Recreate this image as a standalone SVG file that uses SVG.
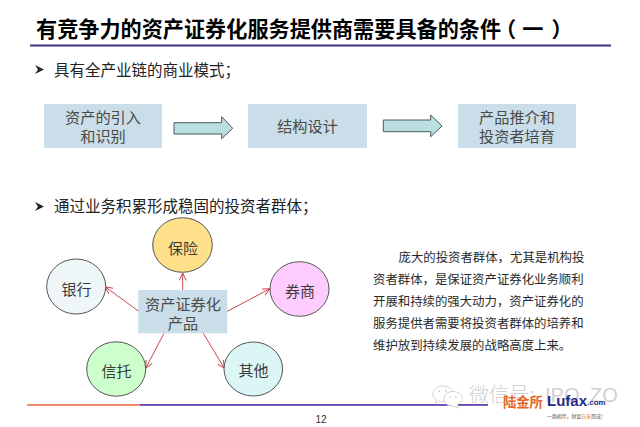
<svg xmlns="http://www.w3.org/2000/svg" width="640" height="427" viewBox="0 0 640 427">
<style>
text{font-family:"Liberation Sans","Noto Sans CJK SC",sans-serif}
.title{font-size:21.150px;font-weight:bold;fill:#000}
.bul{font-size:15.500px;fill:#222}
.box{fill:#c9dee8}
.bt{font-size:15.200px;fill:#4a4a4a;text-anchor:middle}
.c{stroke:#555;stroke-width:1}
.ct{font-size:15px;fill:#3a3a3a;text-anchor:middle}
.arr{fill:#b9dfe0;stroke:#4a5a5a;stroke-width:1}
.para{font-size:12.400px;fill:#2a2a2a}
.l{stroke:#c8474c;stroke-width:1;fill:none;marker-end:url(#ah)}
.wm{fill:#fff;stroke:#d4d4d4;stroke-width:1}
</style>
<defs>
<marker id="ah" viewBox="0 0 8 8" refX="7.500" refY="4" markerWidth="8" markerHeight="8" orient="auto" markerUnits="userSpaceOnUse"><path d="M0,0.500 L7.500,4 L0,7.500" fill="none" stroke="#c8474c" stroke-width="1"/></marker>
</defs>
<rect width="640" height="427" fill="#fff"/>
<text class="title" x="36" y="37">有竞争力的资产证券化服务提供商需要具备的条件<tspan dx="-6">（</tspan><tspan dx="6">一</tspan><tspan dx="8">）</tspan></text>
<rect x="30" y="44.500" width="581" height="2" fill="#47307f"/>
<path d="M35,65 L44,69.500 L35,74 L38,69.500Z" fill="#222"/>
<text class="bul" x="54" y="76">具有全产业链的商业模式；</text>
<g id="n1"><rect class="box" x="44" y="104" width="118" height="44"/><text class="bt" x="103" y="123">资产的引入</text><text class="bt" x="103" y="142">和识别</text></g>
<g id="n2"><rect class="box" x="248" y="104" width="119" height="44"/><text class="bt" x="307.500" y="132">结构设计</text></g>
<g id="n3"><rect class="box" x="458" y="104" width="118" height="44"/><text class="bt" x="517" y="123">产品推介和</text><text class="bt" x="517" y="142">投资者培育</text></g>
<g id="flow">
<path class="arr" d="M174,122.700 H221.700 V116.700 L232.700,128.300 L221.700,138.700 V134 H174Z"/>
<path class="arr" d="M383.300,120 H430.700 V115 L442,126 L430.700,136.700 V131.700 H383.300Z"/>
</g>
<path d="M35,202 L44,206.500 L35,211 L38,206.500Z" fill="#222"/>
<text class="bul" x="54" y="212">通过业务积累形成稳固的投资者群体；</text>
<g id="connectors">
<line class="l" x1="182.700" y1="290" x2="182.700" y2="273"/>
<line class="l" x1="139.300" y1="311.700" x2="105" y2="286.700"/>
<line class="l" x1="226.700" y1="311.700" x2="270" y2="288.700"/>
<line class="l" x1="164" y1="333.300" x2="145.700" y2="368.300"/>
<line class="l" x1="203.300" y1="333.300" x2="224.300" y2="368.300"/>
</g>
<g id="baoxian"><ellipse class="c" cx="182.500" cy="245" rx="29.800" ry="27.300" fill="#ffe08a"/><text class="ct" x="183" y="254">保险</text></g>
<g id="yinhang"><ellipse class="c" cx="76.200" cy="286.500" rx="29.500" ry="27.500" fill="#eef6f8"/><text class="ct" x="76.500" y="295">银行</text></g>
<g id="quanshang"><ellipse class="c" cx="299.500" cy="289" rx="29.500" ry="27.300" fill="#ffccff"/><text class="ct" x="300" y="297">券商</text></g>
<g id="xintuo"><ellipse class="c" cx="116.200" cy="369" rx="29.500" ry="27.200" fill="#ccffcc"/><text class="ct" x="116.500" y="377">信托</text></g>
<g id="qita"><ellipse class="c" cx="253.300" cy="369" rx="29.300" ry="27" fill="#dcf6f6"/><text class="ct" x="253.500" y="376">其他</text></g>
<g id="center"><rect class="box" x="138.300" y="290" width="89" height="43.300"/><text class="bt" x="183" y="310">资产证券化</text><text class="bt" x="183" y="329">产品</text></g>
<g id="para">
<text class="para" x="398.500" y="262">庞大的投资者群体，尤其是机构投</text>
<text class="para" x="373" y="284">资者群体，是保证资产证券化业务顺利</text>
<text class="para" x="373" y="306">开展和持续的强大动力，资产证券化的</text>
<text class="para" x="373" y="328">服务提供者需要将投资者群体的培养和</text>
<text class="para" x="373" y="350">维护放到持续发展的战略高度上来。</text>
</g>
<rect x="27" y="404.200" width="113" height="1.500" fill="#e8663a"/>
<rect x="140" y="404.200" width="348" height="1.500" fill="#47209a"/>
<text x="321" y="423" font-size="10px" text-anchor="middle" fill="#333">12</text>
<g id="mark">
<path class="wm" d="M443,386 C437,386 433,389.500 433,394 C433,396.500 434.500,398.500 436.500,400 L435.500,403 L439,401 C441,401.700 443,402 445,401.800 C451,401.500 453,398 453,394 C453,389.500 449,386 443,386Z"/>
<path class="wm" d="M453,391.500 C447.500,391.500 444,395 444,399 C444,403 447.500,406 453,406 L458,408 L457.500,404.500 C460.500,403 462.500,401 462.500,398.700 C462.500,394.700 458.500,391.500 453,391.500Z"/>
<circle cx="439" cy="391" r="1" fill="#d4d4d4"/><circle cx="446" cy="391" r="1" fill="#d4d4d4"/>
<circle cx="450" cy="397" r="0.900" fill="#d4d4d4"/><circle cx="456" cy="397" r="0.900" fill="#d4d4d4"/>
<text x="469" y="402" font-size="20px" font-family="Lato,'Noto Sans CJK SC',sans-serif" font-weight="300" fill="#d2d2d2">微信号: <tspan x="545">IPO</tspan><tspan x="590">ZO</tspan></text>
</g>
<g id="logo">
<text x="503" y="407" font-size="13.300px" font-weight="bold" fill="#e8662a">陆金所</text>
<text x="547" y="406" font-size="15px" font-weight="bold" fill="#2a2a86">Lufax</text>
<text x="587" y="405" font-size="8px" font-weight="bold" fill="#2a2a86">.com</text>
<text x="547" y="418" font-size="4.900px" fill="#555">一路相伴，财富<tspan fill="#e8662a">自来</tspan>而成！</text>
</g>
</svg>
